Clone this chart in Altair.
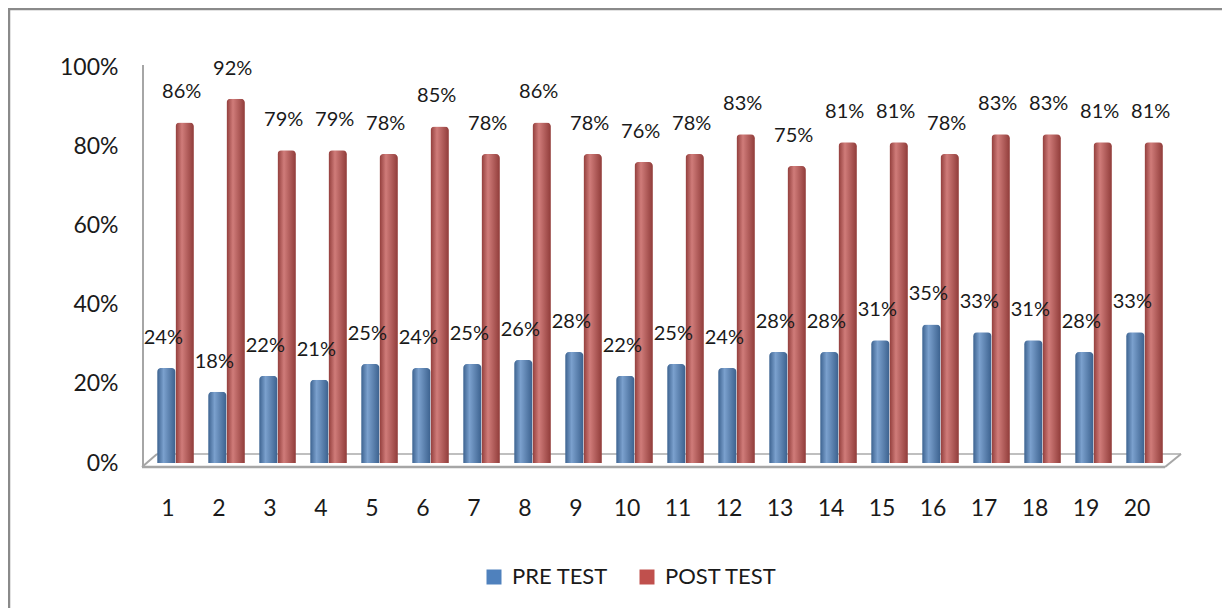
import altair as alt
import pandas as pd

students = [str(i) for i in range(1, 21)]
pre_test = [24, 18, 22, 21, 25, 24, 25, 26, 28, 22, 25, 24, 28, 28, 31, 35, 33, 31, 28, 33]
post_test = [86, 92, 79, 79, 78, 85, 78, 86, 78, 76, 78, 83, 75, 81, 81, 78, 83, 83, 81, 81]
series = ["PRE TEST", "POST TEST"]
colors = ["#4F81BD", "#C0504D"]

rows = []
for s, p, q in zip(students, pre_test, post_test):
    rows.append({"student": s, "series": series[0], "v": p / 100})
    rows.append({"student": s, "series": series[1], "v": q / 100})
df = pd.DataFrame(rows)

FONT = "Lato"
W, H = 1020, 396

x_enc = alt.X("student:N", sort=students,
              scale=alt.Scale(paddingInner=0.28, paddingOuter=0.14),
              axis=alt.Axis(title=None, labelAngle=0, labelFontSize=23, labelFont=FONT,
                            labelColor="#1a1a1a", ticks=False, domain=False, grid=False,
                            labelOffset=-7.5, labelPadding=45, labelBaseline="middle"))
y_enc = alt.Y("v:Q", scale=alt.Scale(domain=[0, 1], nice=False),
              axis=alt.Axis(title=None, values=[0, 0.2, 0.4, 0.6, 0.8, 1.0], format=".0%",
                            labelFontSize=23, labelFont=FONT, labelColor="#1a1a1a",
                            ticks=False, domain=False, grid=False, offset=7, labelPadding=25))
xo = alt.XOffset("series:N", sort=series, scale=alt.Scale(paddingInner=0, paddingOuter=0))

base = alt.Chart(df)
deco = alt.Chart(pd.DataFrame({"k": [0]}))

# decorative outer frame (left and top edges visible) and 3-D floor
frame_left = deco.mark_rule(color="#8a8a8a", strokeWidth=2.5).encode(
    x=alt.value(-141), y=alt.value(-59), y2=alt.value(560))
frame_top = deco.mark_rule(color="#8a8a8a", strokeWidth=2.5).encode(
    x=alt.value(-142), x2=alt.value(1090), y=alt.value(-58), y2=alt.value(-58))
wall = deco.mark_rule(color="#a6a6a6", strokeWidth=2).encode(
    x=alt.value(-7), y=alt.value(-2), y2=alt.value(400))
floor_front = deco.mark_rule(color="#a6a6a6", strokeWidth=2.5).encode(
    x=alt.value(-8), x2=alt.value(1015), y=alt.value(400), y2=alt.value(400))
floor_back = deco.mark_rule(color="#bfbfbf", strokeWidth=2).encode(
    x=alt.value(7), x2=alt.value(1031), y=alt.value(387), y2=alt.value(387))
floor_l = deco.mark_rule(color="#a6a6a6", strokeWidth=2).encode(
    x=alt.value(-8), x2=alt.value(7), y=alt.value(400), y2=alt.value(387))
floor_r = deco.mark_rule(color="#a6a6a6", strokeWidth=2).encode(
    x=alt.value(1015), x2=alt.value(1031), y=alt.value(400), y2=alt.value(387))

bars = base.mark_bar(cornerRadiusTopLeft=4, cornerRadiusTopRight=4).encode(
    x=x_enc, xOffset=xo, y=y_enc,
    color=alt.Color("series:N", sort=series,
                    scale=alt.Scale(domain=series, range=colors),
                    legend=alt.Legend(title=None, orient="none", direction="horizontal",
                                      legendX=333, legendY=499, symbolType="square",
                                      symbolSize=225, symbolStrokeWidth=0,
                                      labelFontSize=22, labelFont=FONT, labelColor="#1a1a1a",
                                      columnPadding=28, labelOffset=7)))

shade = base.mark_bar(
    cornerRadiusTopLeft=4, cornerRadiusTopRight=4, opacity=0.25,
    color=alt.Gradient(gradient="linear", x1=0, x2=1, y1=0, y2=0,
                       stops=[alt.GradientStop(color="#000000", offset=0),
                              alt.GradientStop(color="#ffffff", offset=0.35),
                              alt.GradientStop(color="#000000", offset=1)])
).encode(x=x_enc, xOffset=xo, y=y_enc)

labels = base.mark_text(fontSize=20, font=FONT, color="#1a1a1a", dy=-24, dx=-3,
                        baseline="alphabetic").encode(
    x=x_enc, xOffset=xo, y=y_enc, text=alt.Text("v:Q", format=".0%"))

chart = alt.layer(frame_left, frame_top, wall, floor_back, floor_l, floor_r, floor_front,
                  bars, shade, labels).properties(
    width=W, height=H,
    background="white",
    autosize=alt.AutoSizeParams(type="none"),
    padding={"left": 142, "top": 59, "right": 52, "bottom": 145},
).configure(
    view=alt.ViewConfig(stroke="transparent", strokeWidth=0),
    axis=alt.AxisConfig(grid=False, domain=False),
)

chart.save("out.html", embed_options={"renderer": "svg", "actions": False})
